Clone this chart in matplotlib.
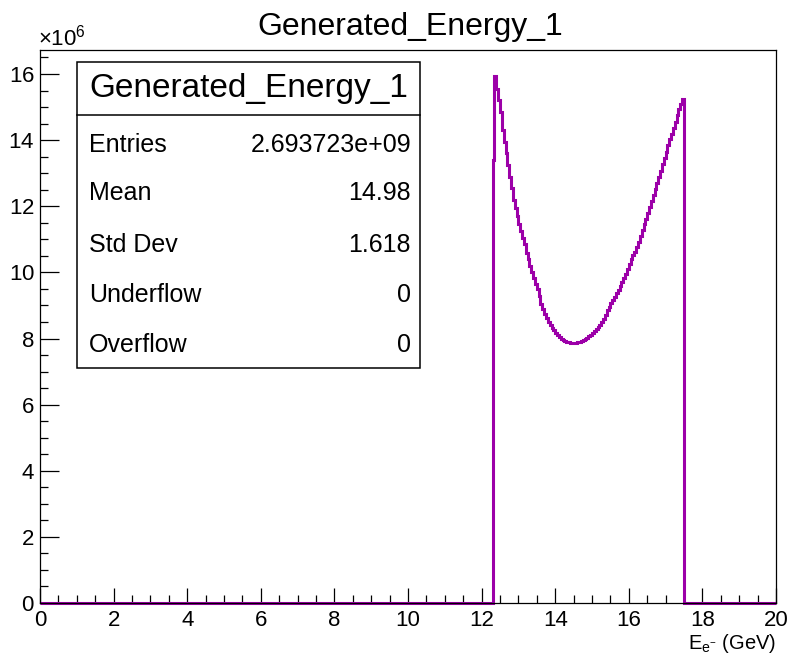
import numpy as np
import matplotlib
matplotlib.use("Agg")
import matplotlib.pyplot as plt
from matplotlib.patches import Rectangle
from matplotlib.lines import Line2D
from matplotlib.ticker import ScalarFormatter, MultipleLocator

plt.rcParams["font.family"] = ["Liberation Sans", "DejaVu Sans"]
plt.rcParams["mathtext.fontset"] = "custom"
plt.rcParams["mathtext.rm"] = "Liberation Sans"
plt.rcParams["mathtext.it"] = "Liberation Sans:italic"
plt.rcParams["mathtext.bf"] = "Liberation Sans:bold"

# histogram definition: 400 bins over 0..20 GeV, filled from 12.30 to 17.50
title = "Generated_Energy_1"
x_label = r"$\mathregular{E_{e^{-}}}$ (GeV)"
x_min, x_max = 0.0, 20.0
n_bins = 400
first_bin = 246

# bin contents, in units of 1e6
counts_1e6 = [
    13.40, 15.93, 15.55, 15.20, 14.85, 14.30, 13.95, 13.60, 13.25, 12.90,
    12.55, 12.20, 11.95, 11.70, 11.45, 11.25, 11.05, 10.85, 10.60, 10.40,
    10.20, 10.00, 9.82, 9.65, 9.50, 9.30, 9.05, 8.88, 8.75, 8.62,
    8.50, 8.40, 8.32, 8.25, 8.18, 8.12, 8.05, 8.00, 7.96, 7.93,
    7.90, 7.88, 7.87, 7.86, 7.86, 7.86, 7.88, 7.90, 7.92, 7.95,
    7.98, 8.02, 8.07, 8.12, 8.17, 8.22, 8.28, 8.35, 8.42, 8.50,
    8.60, 8.72, 8.85, 8.96, 9.06, 9.16, 9.26, 9.37, 9.48, 9.59,
    9.70, 9.82, 9.95, 10.10, 10.25, 10.40, 10.52, 10.62, 10.77, 10.93,
    11.10, 11.27, 11.45, 11.62, 11.80, 11.98, 12.16, 12.35, 12.53, 12.71,
    12.90, 13.08, 13.27, 13.46, 13.65, 13.84, 14.02, 14.20, 14.38, 14.56,
    14.75, 14.93, 15.10, 15.25,
]

stats_labels = ["Entries", "Mean", "Std Dev", "Underflow", "Overflow"]
stats_values = ["2.693723e+09", "14.98", "1.618", "0", "0"]

line_color = "#9c00a8"

edges = np.linspace(x_min, x_max, n_bins + 1)
contents = np.zeros(n_bins)
contents[first_bin:first_bin + len(counts_1e6)] = np.array(counts_1e6) * 1e6

fig = plt.figure(figsize=(7.92, 6.55), dpi=100)
ax = fig.add_axes([40 / 792, 52 / 655, 736 / 792, 553 / 655])

ax.stairs(contents, edges, color=line_color, linewidth=2.2, baseline=0, clip_on=False, zorder=2)

ax.set_xlim(x_min, x_max)
ax.set_ylim(0, contents.max() * 1.05)

ax.xaxis.set_major_locator(MultipleLocator(2))
ax.xaxis.set_minor_locator(MultipleLocator(0.5))
ax.yaxis.set_major_locator(MultipleLocator(2e6))
ax.yaxis.set_minor_locator(MultipleLocator(0.5e6))

fmt = ScalarFormatter(useMathText=True)
fmt.set_powerlimits((6, 6))
ax.yaxis.set_major_formatter(fmt)

ax.tick_params(axis="x", which="major", direction="in", length=11, width=0.9, labelsize=16, pad=5)
ax.tick_params(axis="x", which="minor", direction="in", length=5.5, width=0.9)
ax.tick_params(axis="y", which="major", direction="in", length=14, width=0.9, labelsize=16, pad=4)
ax.tick_params(axis="y", which="minor", direction="in", length=6, width=0.9)
ax.tick_params(top=False, right=False, which="both")
ax.yaxis.get_offset_text().set_fontsize(16)
ax.yaxis.get_offset_text().set_x(-0.003)
for s in ax.spines.values():
    s.set_linewidth(0.9)

# axis title placed like ROOT: right-aligned under the tick labels
fig.text(776 / 792, (655 - 649) / 655, x_label, fontsize=14.5, ha="right", va="baseline")

fig.text(0.5177, 0.9588, title, fontsize=23, ha="center", va="center")

# stats box
bx0, bx1 = 77 / 792, 420 / 792
by0, by1 = (655 - 368) / 655, (655 - 62) / 655
fig.patches.append(Rectangle((bx0, by0), bx1 - bx0, by1 - by0, transform=fig.transFigure,
                             facecolor="white", edgecolor="black", linewidth=1.1, zorder=5))
sep_y = (655 - 115) / 655
fig.lines.append(Line2D([bx0, bx1], [sep_y, sep_y], transform=fig.transFigure,
                        color="black", linewidth=1.1, zorder=6))
fig.text((bx0 + bx1) / 2, (655 - 88) / 655, title, fontsize=24, ha="center", va="center", zorder=7)
row_y = [145, 193, 245, 295, 345]
for lab, val, yy in zip(stats_labels, stats_values, row_y):
    fig.text(89 / 792, (655 - yy) / 655, lab, fontsize=18, ha="left", va="center", zorder=7)
    fig.text(411 / 792, (655 - yy) / 655, val, fontsize=18, ha="right", va="center", zorder=7)

fig.savefig("out.png", dpi=100)
